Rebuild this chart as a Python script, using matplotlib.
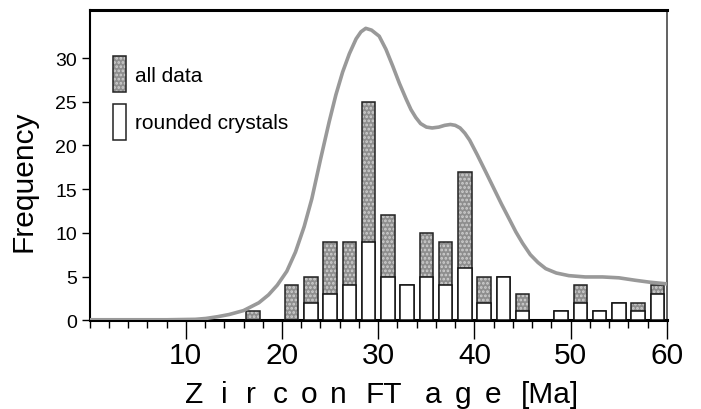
import matplotlib
matplotlib.use("Agg")
import matplotlib.pyplot as plt
from matplotlib.patches import Patch

plt.rcParams['font.family'] = ['Liberation Sans', 'DejaVu Sans']
plt.rcParams['hatch.linewidth'] = 1.3

# bin centres (Ma), bin width 2 Ma
age_bins = [17, 21, 23, 25, 27, 29, 31, 33, 35, 37, 39, 41, 43, 45, 49, 51, 53, 55, 57, 59]
all_data = [1, 4, 5, 9, 9, 25, 12, 4, 10, 9, 17, 5, 5, 3, 1, 4, 1, 2, 2, 4]
rounded = [0, 0, 2, 3, 4, 9, 5, 4, 5, 4, 6, 2, 5, 1, 1, 2, 1, 2, 1, 3]

# probability density curve
curve_x = [0, 4, 8, 11, 12.1, 13.3, 14.5, 16, 17.6, 18.6, 19.5, 20.5, 21.4, 22.3, 23.1, 24.0,
           24.9, 25.6, 26.3, 27.0, 27.7, 28.2, 28.7, 29.3, 30.1, 30.8, 31.5, 32.2, 32.9,
           33.4, 33.9, 34.4, 35.0, 35.6, 36.3, 36.9, 37.5, 38.0, 38.5, 39.0, 39.5, 40.3,
           41.2, 42.0, 42.8, 43.6, 44.3, 45.0, 45.8, 46.6, 47.4, 48.5, 49.8, 51.5, 53.3,
           55.0, 56.7, 58.2, 59.7, 60]
curve_y = [0.05, 0.05, 0.05, 0.1, 0.2, 0.4, 0.65, 1.1, 2.0, 2.9, 4.0, 5.6, 7.8, 10.7, 13.9,
           18.4, 22.7, 25.8, 28.4, 30.5, 32.2, 33.0, 33.4, 33.2, 32.5, 31.0, 29.1, 27.1,
           25.3, 24.1, 23.2, 22.5, 22.1, 22.0, 22.1, 22.3, 22.4, 22.3, 22.0, 21.4, 20.6,
           18.9, 16.9, 15.1, 13.3, 11.6, 10.1, 8.8, 7.5, 6.6, 5.9, 5.4, 5.1, 4.95, 4.95,
           4.85, 4.57, 4.35, 4.19, 4.15]

xticks_major = [10, 20, 30, 40, 50, 60]
yticks = [0, 5, 10, 15, 20, 25, 30]

W, H = 701, 410
fig = plt.figure(figsize=(W / 100, H / 100), dpi=100)
ax = fig.add_axes([89.5 / W, (H - 321.2) / H, (667 - 89.5) / W, (321.2 - 11) / H])

bw = 1.4
grey = '#8e8e8e'
hatch_col = '#cfcfcf'
ax.bar(age_bins, all_data, width=bw, color=grey, edgecolor=hatch_col, linewidth=0,
       hatch='....', zorder=2)
ax.bar(age_bins, all_data, width=bw, fill=False, edgecolor='#222222', linewidth=1.1, zorder=3)
ax.bar(age_bins, rounded, width=bw, color='white', edgecolor='#111111', linewidth=1.1, zorder=4)

ax.plot(curve_x, curve_y, color='#999999', lw=2.6, zorder=5,
        solid_capstyle='round', solid_joinstyle='round')

ax.set_xlim(0, 60)
ax.set_ylim(0, 35.5)
ax.set_xticks(xticks_major)
ax.set_xticks(range(0, 61, 2), minor=True)
ax.set_yticks(yticks)
ax.tick_params(axis='x', which='major', direction='out', length=14, width=1.0,
               labelsize=21.5, pad=1)
ax.tick_params(axis='x', which='minor', direction='out', length=6, width=1.0)
ax.tick_params(axis='y', which='major', direction='out', length=6, width=1.0,
               labelsize=14, pad=3)

for s in ['top', 'bottom']:
    ax.spines[s].set_linewidth(2.2)
ax.spines['left'].set_linewidth(1.5)
ax.spines['right'].set_linewidth(1.3)
ax.spines['right'].set_color('#555555')

# x-axis title with wide letter spacing (placed piece by piece)
xlabel_parts = ['Z', 'i', 'r', 'c', 'o', 'n', 'FT', 'a', 'g', 'e', '[Ma]']
xlabel_px = [185, 221, 246, 273, 301, 330, 366, 425, 455, 485, 521]
for part, px in zip(xlabel_parts, xlabel_px):
    fig.text(px / W, 6.7 / H, part, fontsize=21.5, ha='left', va='baseline')

ax.set_ylabel('Frequency', fontsize=21.5)
ax.yaxis.set_label_coords(-0.09, 0.45)

h1_fill = Patch(facecolor=grey, edgecolor=hatch_col, hatch='....', linewidth=0)
h1_edge = Patch(facecolor='none', edgecolor='#222222', linewidth=1.1)
h2 = Patch(facecolor='white', edgecolor='#222222', linewidth=1.1)
leg = ax.legend([(h1_fill, h1_edge), h2], ['all data', 'rounded crystals'], loc='upper left',
                bbox_to_anchor=(0.022, 0.885), frameon=False, fontsize=15,
                handlelength=0.62, handleheight=2.3, handletextpad=0.45,
                labelspacing=0.55, borderpad=0)

fig.savefig('out.png', dpi=100)
